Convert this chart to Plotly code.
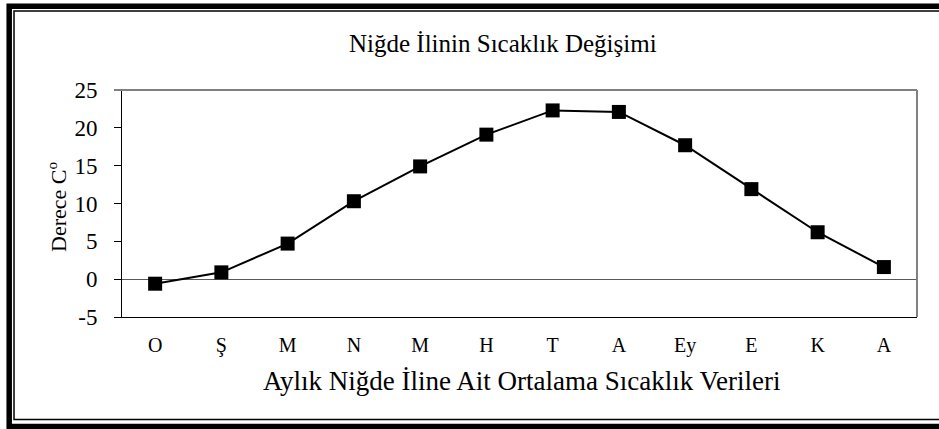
import plotly.graph_objects as go

# ---- data ----
months = ["O", "Ş", "M", "N", "M ", "H", "T", "A", "Ey", "E", "K", "A "]
month_labels = ["O", "Ş", "M", "N", "M", "H", "T", "A", "Ey", "E", "K", "A"]
temps = [-0.6, 0.9, 4.7, 10.3, 14.9, 19.1, 22.3, 22.1, 17.7, 11.9, 6.2, 1.6]
y_ticks = [-5, 0, 5, 10, 15, 20, 25]
y_tick_labels = ["-5", "0", "5", "10", "15", "20", "25"]

title_text = "Niğde İlinin Sıcaklık Değişimi"
x_title = "Aylık Niğde İline Ait Ortalama Sıcaklık Verileri"
y_title = "Derece C<sup>o</sup>"

W, H = 939, 429
ML, MR, MT, MB = 122, 22, 90, 112
PW, PH = W - ML - MR, H - MT - MB


def px(x):
    return (x - ML) / PW


def py(y):
    return (H - MB - y) / PH


FONT = "Liberation Serif, Times New Roman, serif"

fig = go.Figure()
fig.add_trace(go.Scatter(
    x=months, y=temps, mode="lines+markers",
    line=dict(color="black", width=2),
    marker=dict(symbol="square", size=14, color="black"),
    showlegend=False, hoverinfo="skip",
))

shapes = [
    # outer thick frame
    dict(type="rect", xref="paper", yref="paper",
         x0=px(9.2), x1=px(960), y0=py(6.3), y1=py(426.5),
         line=dict(color="black", width=5.5), fillcolor="rgba(0,0,0,0)"),
    # inner thin frame
    dict(type="rect", xref="paper", yref="paper",
         x0=px(14), x1=px(960), y0=py(11), y1=py(419.5),
         line=dict(color="black", width=1.5), fillcolor="rgba(0,0,0,0)"),
    # plot area top & right border (gray)
    dict(type="line", xref="paper", yref="paper",
         x0=px(114), x1=1, y0=1, y1=1,
         line=dict(color="#808080", width=2)),
    dict(type="line", xref="paper", yref="paper",
         x0=1, x1=1, y0=0, y1=1,
         line=dict(color="#808080", width=2)),
]

annotations = [
    dict(text=title_text, xref="paper", yref="paper",
         x=px(502.5), y=py(44), xanchor="center", yanchor="middle",
         showarrow=False, font=dict(family=FONT, size=25, color="black")),
    dict(text=x_title, xref="paper", yref="paper",
         x=px(521), y=py(381), xanchor="center", yanchor="middle",
         showarrow=False, font=dict(family=FONT, size=27, color="black")),
    dict(text=y_title, xref="paper", yref="paper",
         x=px(57), y=py(207), xanchor="center", yanchor="middle",
         textangle=-90, showarrow=False,
         font=dict(family=FONT, size=22, color="black")),
]

fig.update_layout(
    width=W, height=H,
    margin=dict(l=ML, r=MR, t=MT, b=MB, pad=0),
    paper_bgcolor="white", plot_bgcolor="white",
    font=dict(family=FONT, color="black"),
    shapes=shapes, annotations=annotations,
    xaxis=dict(
        type="category", range=[-0.5, 11.5],
        tickvals=months, ticktext=month_labels,
        showgrid=False, zeroline=False,
        showline=True, linecolor="black", linewidth=1,
        ticks="", ticklabelstandoff=10,
        tickfont=dict(family=FONT, size=20, color="black"),
        fixedrange=True,
    ),
    yaxis=dict(
        range=[-5, 25], tickvals=y_ticks, ticktext=y_tick_labels,
        showgrid=False,
        zeroline=True, zerolinecolor="#595959", zerolinewidth=1,
        showline=True, linecolor="black", linewidth=1,
        ticks="outside", ticklen=7, tickcolor="black", tickwidth=1,
        ticklabelstandoff=12,
        tickfont=dict(family=FONT, size=23, color="black"),
        fixedrange=True,
    ),
)

fig.write_html("out.html", config={"displayModeBar": False},
               post_script="document.body.style.margin='0';")
